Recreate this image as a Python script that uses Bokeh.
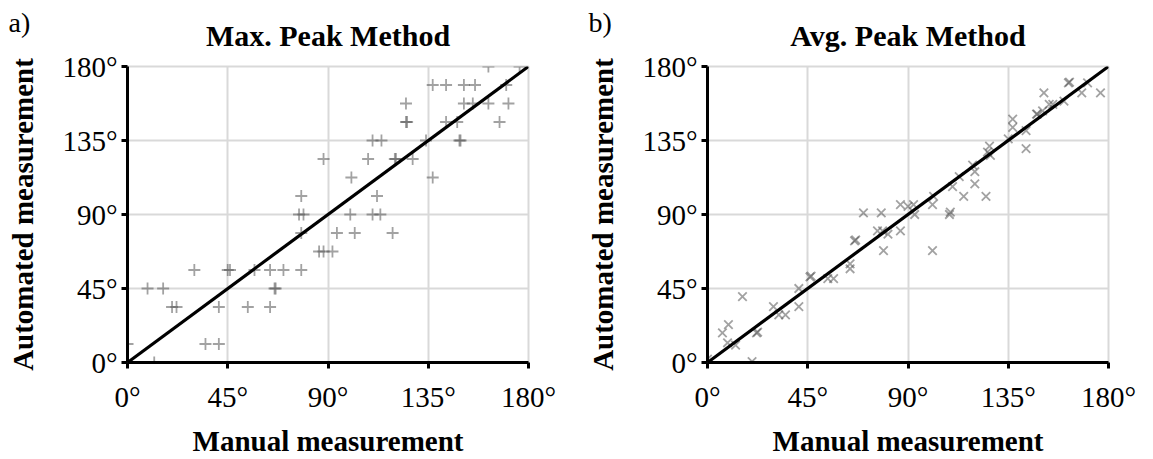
from bokeh.plotting import figure
from bokeh.layouts import row
from bokeh.models import FixedTicker, Range1d, Title
from bokeh.embed import file_html
from bokeh.resources import INLINE

# ---------------- data ----------------
tick_values = [0, 45, 90, 135, 180]
tick_labels = ["0°", "45°", "90°", "135°", "180°"]
identity = [0, 180]

max_manual = [78, 88, 162, 176, 137, 143, 151, 156, 170, 125, 151, 155, 162, 171,
              125, 125.5, 143, 148, 167, 110, 114, 134, 149, 149.5, 108, 120, 120.5,
              128, 100.5, 137, 112, 100, 110, 113.5, 77, 79, 78, 94, 102, 119, 86, 88,
              92, 30, 45, 46, 57, 64, 70, 78, 9, 16, 66, 66.5, 20, 22, 41, 54, 64, 0,
              35, 41, 12]
max_auto = [101.25, 123.75, 180, 180, 168.75, 168.75, 168.75, 168.75, 168.75, 157.5,
            157.5, 157.5, 157.5, 157.5, 146.25, 146.25, 146.25, 146.25, 146.25, 135,
            135, 135, 135, 135, 123.75, 123.75, 123.75, 123.75, 112.5, 112.5, 101.25,
            90, 90, 90, 90, 90, 78.75, 78.75, 78.75, 78.75, 67.5, 67.5, 67.5, 56.25,
            56.25, 56.25, 56.25, 56.25, 56.25, 56.25, 45, 45, 45, 45, 33.75, 33.75,
            33.75, 33.75, 33.75, 11.25, 11.25, 11.25, 0]

avg_manual = [162, 162.5, 170.6, 151, 168, 176.4, 160, 153.4, 155, 150.4, 147.7, 148,
              137, 137, 143, 135, 143, 126.6, 125.7, 127, 119, 120, 113, 110, 120, 115,
              125, 101.5, 86.6, 90, 92.5, 101, 109, 93, 108.6, 86.6, 101, 70, 78, 66,
              66.5, 76.3, 78.6, 81, 79, 64, 64, 54, 56.6, 46, 46.5, 41, 41, 29.6, 32,
              35, 15.7, 22, 22.5, 9.4, 6.7, 9, 12.6, 20, 0]
avg_auto = [170, 170.5, 170, 164, 164, 164, 159, 157, 157, 153, 151, 151, 148, 143,
            141, 136, 130, 131.6, 128, 126, 120, 116, 113, 107, 108.6, 101, 101, 101,
            96, 95, 96, 96, 91.5, 90, 90, 80, 68, 91, 91, 74, 74.5, 80, 80, 78, 68, 60,
            57, 51, 51, 52, 52.5, 45, 34, 34, 29, 29, 40, 18, 18.5, 23, 18, 12, 10.6,
            0.6, 2]

panels = [
    ("a)", "Max. Peak Method", max_manual, max_auto, "cross"),
    ("b)", "Avg. Peak Method", avg_manual, avg_auto, "x"),
]
x_label = "Manual measurement"
y_label = "Automated measurement"

SERIF = "Liberation Serif"
FRAME_W, FRAME_H = 401, 305
LEFT, TOP, BOTTOM = 127, 66, 88
RIGHTS = [52, 45]


def make_panel(tag, title, xs, ys, marker, right):
    p = figure(width=LEFT + FRAME_W + right, height=TOP + FRAME_H + BOTTOM,
               output_backend="svg", toolbar_location=None,
               x_range=Range1d(0, 180), y_range=Range1d(0, 180),
               min_border_left=LEFT, min_border_right=right,
               min_border_top=TOP, min_border_bottom=BOTTOM)
    p.outline_line_color = "#d9d9d9"
    p.outline_line_width = 2
    p.background_fill_color = "white"
    p.border_fill_color = "white"

    for ax in (p.xaxis[0], p.yaxis[0]):
        ax.ticker = FixedTicker(ticks=tick_values)
        ax.major_label_overrides = {v: l for v, l in zip(tick_values, tick_labels)}
        ax.axis_line_color = "black"
        ax.axis_line_width = 3
        ax.major_tick_line_color = "black"
        ax.major_tick_line_width = 3
        ax.major_tick_in = 0
        ax.major_tick_out = 6
        ax.minor_tick_line_color = None
        ax.major_label_text_font = SERIF
        ax.major_label_text_font_size = "29px"
        ax.major_label_text_color = "black"
        ax.axis_label_text_font = SERIF
        ax.axis_label_text_font_size = "29px"
        ax.axis_label_text_font_style = "bold"
        ax.axis_label_text_color = "black"
    p.xaxis.major_label_standoff = 12
    p.yaxis.major_label_standoff = 4
    p.xaxis.axis_label = x_label
    p.yaxis.axis_label = y_label
    p.xaxis.axis_label_standoff = 9
    p.yaxis.axis_label_standoff = 20

    for g in (p.xgrid[0], p.ygrid[0]):
        g.ticker = FixedTicker(ticks=tick_values)
        g.grid_line_color = "#d9d9d9"
        g.grid_line_width = 2

    p.scatter(xs, ys, marker=marker, size=12, line_color="#555555",
              line_alpha=0.55, line_width=1.8, fill_color=None)
    p.line(identity, identity, line_color="black", line_width=3.2)

    # title (closest to frame), then panel tag above it
    p.add_layout(Title(text=title, align="center", text_font=SERIF,
                       text_font_size="30px", text_font_style="bold",
                       text_color="black", standoff=29), "above")
    p.add_layout(Title(text=tag, align="left", offset=-(LEFT - 8), text_font=SERIF,
                       text_font_size="28px", text_font_style="normal",
                       text_color="black", standoff=-71), "above")
    return p


figs = [make_panel(t, ti, xs, ys, m, r)
        for (t, ti, xs, ys, m), r in zip(panels, RIGHTS)]
layout = row(*figs, spacing=0)

open("out.html", "w").write(file_html(layout, INLINE))
